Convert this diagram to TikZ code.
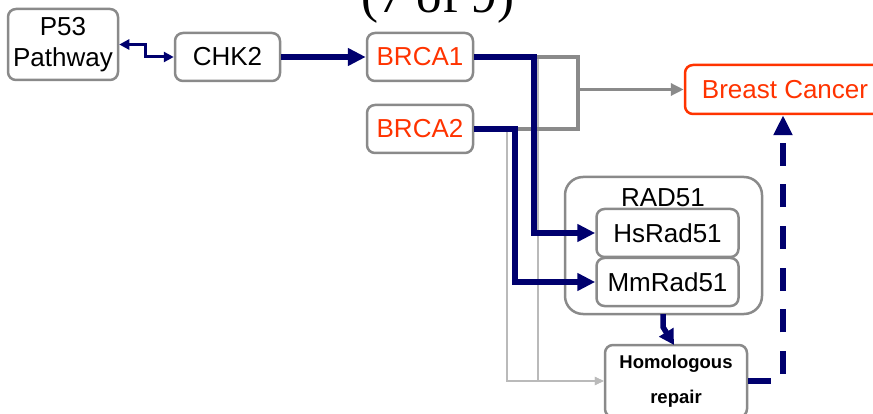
\documentclass[tikz,border=0pt]{standalone}
\usepackage{fontspec}
\setmainfont{Liberation Sans}
\newfontfamily\serifttl{Liberation Serif}
\usetikzlibrary{arrows.meta}
\definecolor{navy}{RGB}{0,0,110}
\definecolor{boxgray}{RGB}{138,138,138}
\definecolor{lgray}{RGB}{186,186,186}
\definecolor{redorange}{RGB}{255,51,0}
\begin{document}
\begin{tikzpicture}[x=1pt,y=-1pt,
  box/.style={draw=boxgray, line width=2.5pt, rounded corners=8pt, inner sep=0pt,
    font=\fontsize{26}{31}\selectfont},
  navyarrow/.style={draw=navy, line width=5.5pt, -{Triangle[length=18pt,width=17pt]}},
  dblarrow/.style={draw=navy, line width=3pt, {Triangle[length=10pt,width=10pt]}-{Triangle[length=10pt,width=10pt]}},
  grayline/.style={draw=boxgray, line width=3.5pt},
  grayarrow/.style={draw=boxgray, line width=3.5pt, -{Triangle[length=13pt,width=12pt]}},
  lgrayline/.style={draw=lgray, line width=2pt, -{Triangle[length=9pt,width=8pt]}},
  dasharrow/.style={draw=navy, line width=5.5pt, dash pattern=on 23pt off 18.7pt,
    -{Triangle[length=20pt,width=18pt]}}
]
\useasboundingbox (0,0) rectangle (873,414);
\clip (0,0) rectangle (873,414);

\node[font=\serifttl\fontsize{51}{51}\selectfont, anchor=base] (title) at (438,13) {(7 of 9)};

\node[box, minimum width=110pt, minimum height=71pt, align=center] (p53) at (63,44.5) {P53\\Pathway};
\node[box, minimum width=105pt, minimum height=48pt] (chk2) at (227.5,57) {CHK2};
\node[box, text=redorange, minimum width=106pt, minimum height=48pt] (brca1) at (420,57) {BRCA1};
\node[box, text=redorange, minimum width=106pt, minimum height=48pt] (brca2) at (420,129) {BRCA2};
\node[box, draw=redorange, text=redorange, minimum width=200pt, minimum height=49pt] (bc) at (785,89.5) {Breast Cancer};
\node[box, rounded corners=18pt, minimum width=197pt, minimum height=137pt] (rad) at (663.5,245.5) {};
\node[font=\fontsize{26}{31}\selectfont] (radlbl) at (663,197.5) {RAD51};
\node[box, fill=white, minimum width=142pt, minimum height=48pt] (hs) at (667.5,233) {HsRad51};
\node[box, fill=white, minimum width=142pt, minimum height=48pt] (mm) at (667.5,282) {MmRad51};
\node[box, minimum width=142pt, minimum height=72pt, align=center,
  font=\bfseries\fontsize{18.5}{35}\selectfont] (hr) at (676,381) {Homologous\\repair};

% corner coordinates
\coordinate (g1) at (538,57);
\coordinate (g2) at (507,129);
\coordinate (b1) at (578,57);
\coordinate (b2) at (578,129);
\coordinate (bm) at (578,89.5);
\coordinate (n1) at (534,57);
\coordinate (n2) at (515,129);
\coordinate (p1) at (145,44.5);
\coordinate (r1) at (663,314);
\coordinate (r2) at (663,327);
\coordinate (r3) at (674,345);
\coordinate (d1) at (783,381);

% light gray lines to homologous repair
\draw[lgrayline] (g1) |- (hr.west);
\draw[lgrayline] (brca2.east) -- (g2) |- (hr.west);

% gray bracket to breast cancer
\draw[grayline] (brca1.east) -- (b1) -- (b2) -- (brca2.east);
\draw[grayarrow] (bm) -- (bc.west);

% navy connectors
\draw[dblarrow] (p53.east) -- (p1) |- (chk2.west);
\draw[navyarrow] (chk2.east) -- (brca1.west);
\draw[navyarrow] (brca1.east) -- (n1) |- (hs.west);
\draw[navyarrow] (brca2.east) -- (n2) |- (mm.west);
\draw[draw=navy, line width=5.5pt, -{Triangle[length=15pt,width=16pt]}] (r1) -- (r2) -- (r3);
\draw[dasharrow] (hr.east) -- (d1) -- (d1 |- bc.south);
\end{tikzpicture}
\end{document}
